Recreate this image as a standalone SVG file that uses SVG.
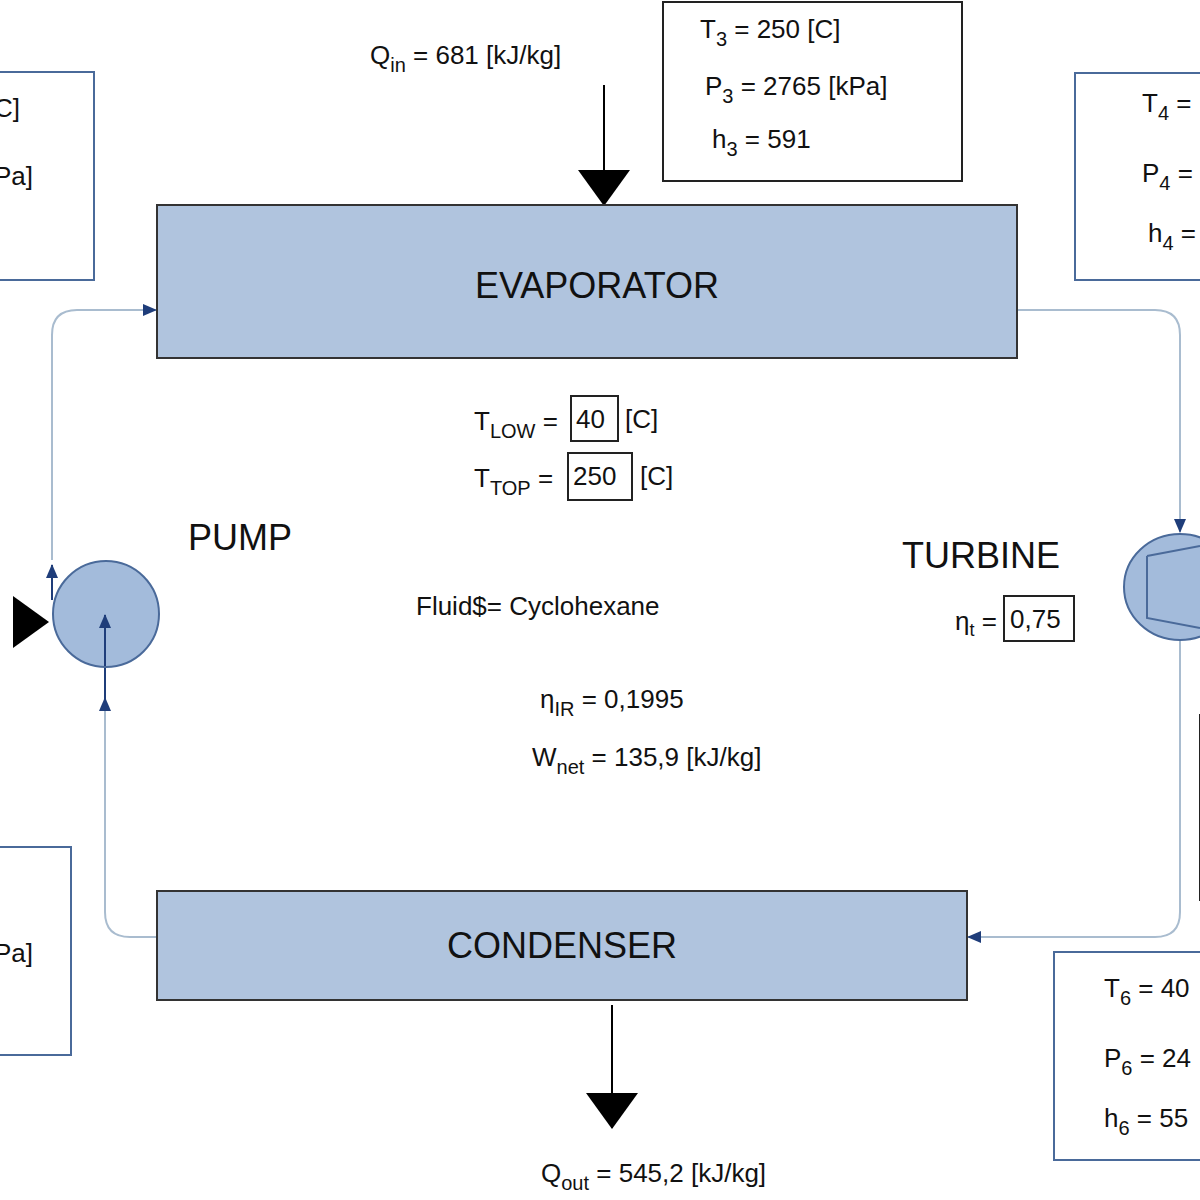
<svg xmlns="http://www.w3.org/2000/svg" width="1200" height="1200" viewBox="0 0 1200 1200">
<defs>
<style>
text{font-family:"Liberation Sans",Arial,sans-serif;fill:#111}
.t{font-size:26px}
.big{font-size:36px}
.box{fill:#fff;stroke:#4a6a9a;stroke-width:2}
.blk{fill:#fff;stroke:#222;stroke-width:2}
.eq{fill:#b0c4de;stroke:#333;stroke-width:2}
.con{fill:none;stroke:#a9bccf;stroke-width:2}
.ibox{fill:#fff;stroke:#222;stroke-width:2}
</style>
<marker id="ba" markerWidth="14" markerHeight="12" refX="13" refY="6" orient="auto" markerUnits="userSpaceOnUse"><path d="M0,0 L14,6 L0,12 Z" fill="#1f3d7a"/></marker>
<marker id="bk" markerWidth="36" markerHeight="52" refX="35" refY="26" orient="auto" markerUnits="userSpaceOnUse"><path d="M0,0 L36,26 L0,52 Z" fill="#000"/></marker>
</defs>
<g id="connectors">
<path class="con" d="M52,560 V335 Q52,310 77,310 H156" marker-end="url(#ba)"/>
<path class="con" d="M1017,310 H1155 Q1180,310 1180,335 V532" marker-end="url(#ba)"/>
<path class="con" d="M1180,640 V912 Q1180,937 1155,937 H968" marker-end="url(#ba)"/>
<path class="con" d="M156,937 H130 Q105,937 105,912 V698" marker-end="url(#ba)"/>
<path d="M105,700 V667" fill="none" stroke="#1f3d7a" stroke-width="2"/>
<path d="M52,600 V565" fill="none" stroke="#1f3d7a" stroke-width="2" marker-end="url(#ba)"/>
<path d="M604,85 V205" stroke="#000" stroke-width="2" marker-end="url(#bk)"/>
<path d="M612,1005 V1128" stroke="#000" stroke-width="2" marker-end="url(#bk)"/>
<path d="M12,622 H48" stroke="#000" stroke-width="0" marker-end="url(#bk)"/>
</g>
<g id="evaporator"><rect class="eq" x="157" y="205" width="860" height="153"/><text class="big" x="597" y="298" text-anchor="middle">EVAPORATOR</text></g>
<g id="condenser"><rect class="eq" x="157" y="891" width="810" height="109"/><text class="big" x="562" y="958" text-anchor="middle">CONDENSER</text></g>
<g id="pump"><circle cx="106" cy="614" r="53" fill="#a3bbdb" stroke="#4a6a9a" stroke-width="2"/>
<path d="M105,666 V615" fill="none" stroke="#1f3d7a" stroke-width="2" marker-end="url(#ba)"/>
<text class="big" x="188" y="550">PUMP</text></g>
<g id="turbine"><ellipse cx="1180" cy="587" rx="56" ry="53" fill="#a3bbdb" stroke="#4a6a9a" stroke-width="2"/><path d="M1147,556 L1200,546 M1147,556 V618 L1200,628" fill="none" stroke="#4a6a9a" stroke-width="2"/><text class="big" x="902" y="568">TURBINE</text>
<text class="t" x="955" y="630">η<tspan font-size="18" dy="6">t</tspan><tspan dy="-6"> =</tspan></text><rect class="ibox" x="1004" y="596" width="70" height="45"/><text class="t" x="1010" y="628">0,75</text></g>
<g id="qin"><text class="t" x="370" y="64">Q<tspan font-size="20" dy="8">in</tspan><tspan dy="-8"> = 681 [kJ/kg]</tspan></text></g>
<g id="qout"><text class="t" x="541" y="1182">Q<tspan font-size="20" dy="8">out</tspan><tspan dy="-8"> = 545,2 [kJ/kg]</tspan></text></g>
<g id="state3"><rect class="blk" x="663" y="2" width="299" height="179"/>
<text class="t" x="700" y="38">T<tspan font-size="20" dy="8">3</tspan><tspan dy="-8"> = 250 [C]</tspan></text>
<text class="t" x="705" y="95">P<tspan font-size="20" dy="8">3</tspan><tspan dy="-8"> = 2765 [kPa]</tspan></text>
<text class="t" x="712" y="148">h<tspan font-size="20" dy="8">3</tspan><tspan dy="-8"> = 591</tspan></text></g>
<g id="state4"><rect class="box" x="1075" y="73" width="140" height="207"/>
<text class="t" x="1142" y="112">T<tspan font-size="20" dy="8">4</tspan><tspan dy="-8"> =</tspan></text>
<text class="t" x="1142" y="182">P<tspan font-size="20" dy="8">4</tspan><tspan dy="-8"> =</tspan></text>
<text class="t" x="1148" y="242">h<tspan font-size="20" dy="8">4</tspan><tspan dy="-8"> =</tspan></text></g>
<g id="state6"><rect class="box" x="1054" y="952" width="160" height="208"/>
<text class="t" x="1104" y="997">T<tspan font-size="20" dy="8">6</tspan><tspan dy="-8"> = 40</tspan></text>
<text class="t" x="1104" y="1067">P<tspan font-size="20" dy="8">6</tspan><tspan dy="-8"> = 24</tspan></text>
<text class="t" x="1104" y="1127">h<tspan font-size="20" dy="8">6</tspan><tspan dy="-8"> = 55</tspan></text></g>
<g id="state5"><rect class="blk" x="1200" y="715" width="10" height="185"/></g>
<g id="state2"><rect class="box" x="-10" y="72" width="104" height="208"/>
<text class="t" x="-6" y="117">C]</text><text class="t" x="-6" y="185">Pa]</text></g>
<g id="state1"><rect class="box" x="-10" y="847" width="81" height="208"/><text class="t" x="-6" y="962">Pa]</text></g>
<g id="params">
<text class="t" x="474" y="430">T<tspan font-size="20" dy="8">LOW</tspan><tspan dy="-8"> =</tspan></text>
<rect class="ibox" x="571" y="396" width="47" height="45"/><text class="t" x="576" y="428">40</text><text class="t" x="625" y="428">[C]</text>
<text class="t" x="474" y="487">T<tspan font-size="20" dy="8">TOP</tspan><tspan dy="-8"> =</tspan></text>
<rect class="ibox" x="568" y="453" width="64" height="47"/><text class="t" x="573" y="485">250</text><text class="t" x="640" y="485">[C]</text>
<text class="t" x="416" y="615">Fluid$=  Cyclohexane</text>
<text class="t" x="540" y="708">η<tspan font-size="20" dy="8">IR</tspan><tspan dy="-8"> = 0,1995</tspan></text>
<text class="t" x="532" y="766">W<tspan font-size="20" dy="8">net</tspan><tspan dy="-8"> = 135,9 [kJ/kg]</tspan></text>
</g>
</svg>
